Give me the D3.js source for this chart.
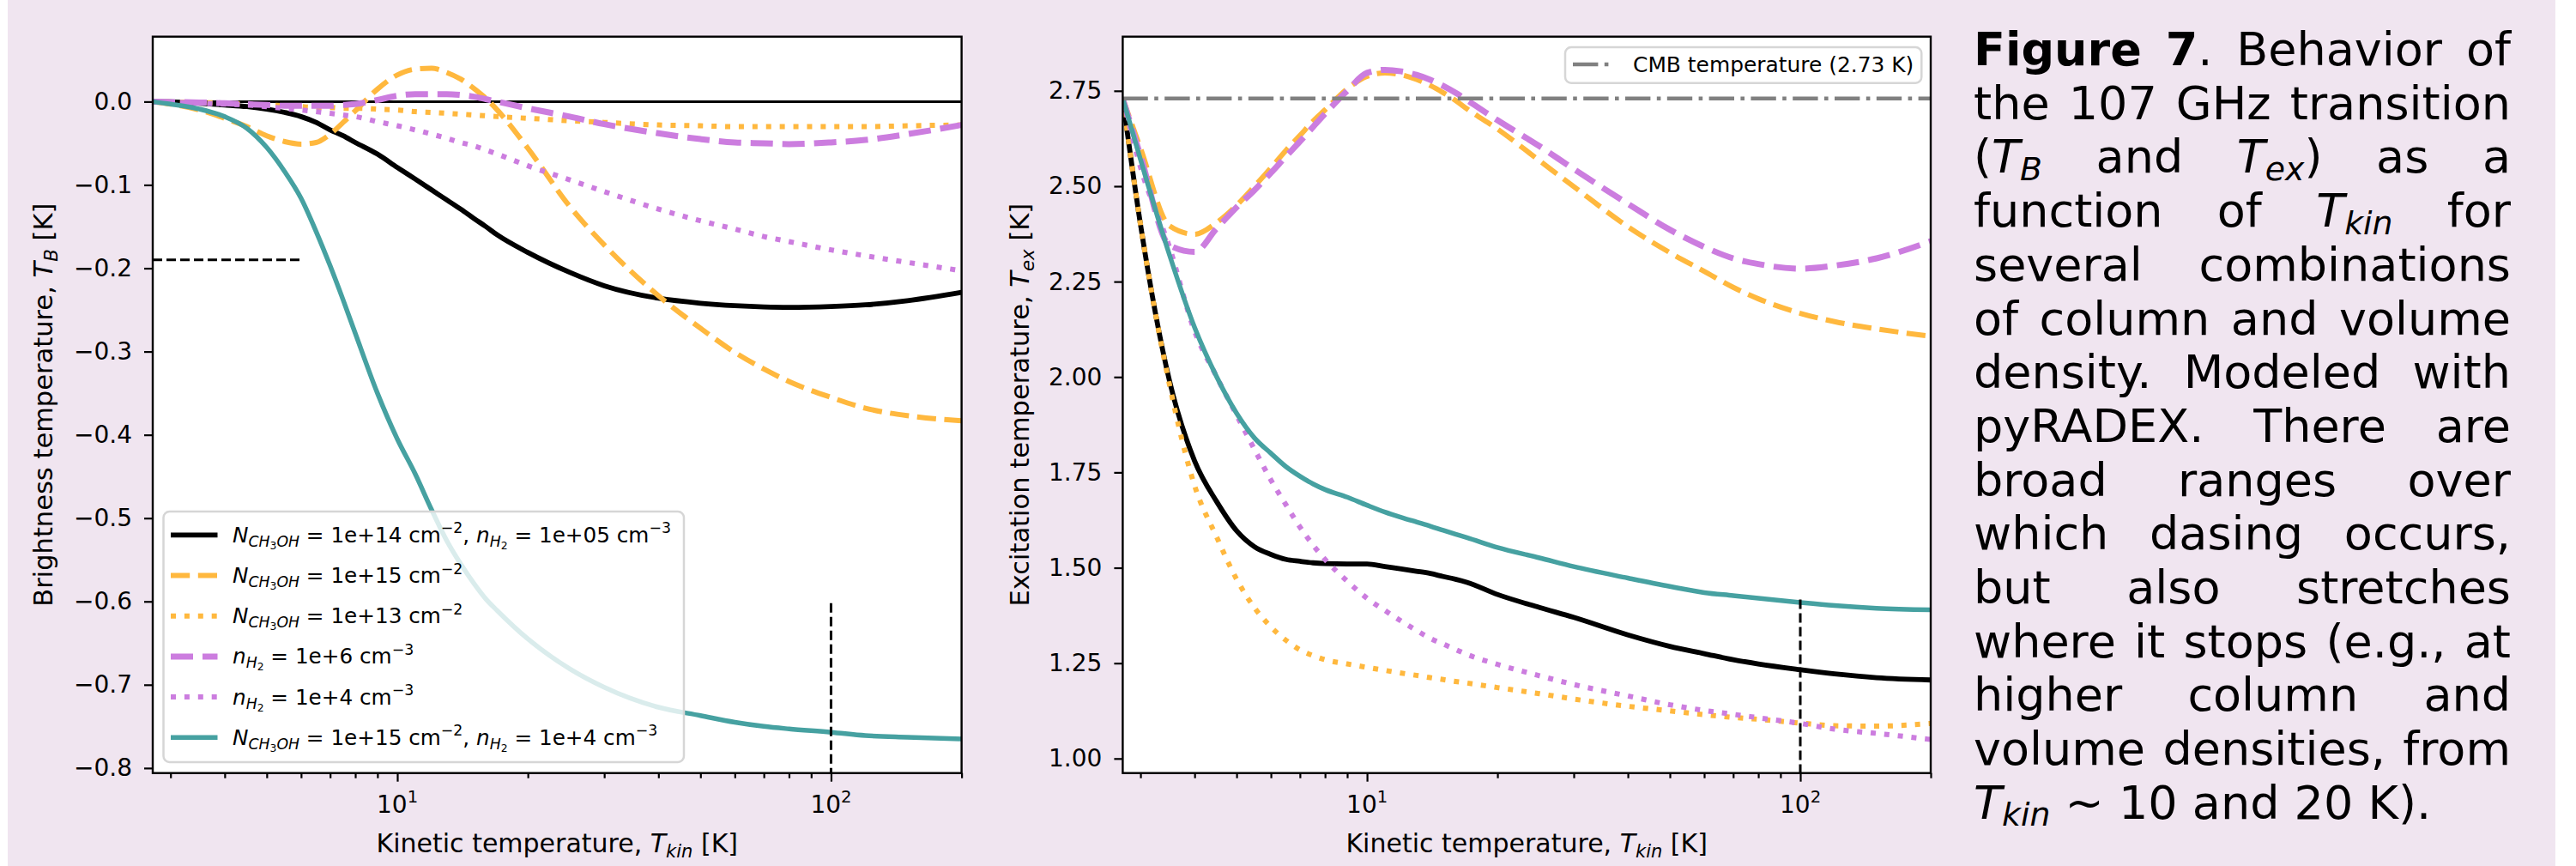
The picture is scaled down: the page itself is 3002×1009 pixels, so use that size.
<!DOCTYPE html>
<html><head><meta charset="utf-8">
<script src="https://cdn.jsdelivr.net/npm/d3@7/dist/d3.min.js"></script>
<style>
body{margin:0;background:#fff;}
svg text{font-family:'DejaVu Sans',sans-serif;white-space:pre;fill:#000;}
</style></head>
<body><svg id="c" width="3002" height="1009"></svg>
<script>
// ---------------- DATA ----------------
const Tkin = [2.73,3,3.5,4,4.5,5,5.5,6,6.5,7,7.5,8,9,10,11,12,13,14,15,16,17,20,25,30,40,50,60,70,80,100,120,150,200];

// Brightness temperature T_B [K]
const tbN14n5  = [0,-0.0003,-0.002,-0.004,-0.006,-0.009,-0.013,-0.018,-0.025,-0.034,-0.041,-0.049,-0.063,-0.079,-0.093,-0.106,-0.118,-0.129,-0.140,-0.150,-0.160,-0.181,-0.205,-0.221,-0.236,-0.242,-0.245,-0.2465,-0.247,-0.246,-0.244,-0.239,-0.229];
const tbN15    = [0,-0.003,-0.010,-0.020,-0.030,-0.041,-0.048,-0.051,-0.049,-0.039,-0.025,-0.011,0.015,0.032,0.039,0.040,0.035,0.027,0.016,0.004,-0.010,-0.056,-0.126,-0.172,-0.233,-0.272,-0.301,-0.321,-0.336,-0.355,-0.368,-0.377,-0.383];
const tbN13    = [0,-0.0005,-0.001,-0.002,-0.003,-0.004,-0.005,-0.006,-0.007,-0.007,-0.008,-0.008,-0.009,-0.010,-0.012,-0.013,-0.014,-0.015,-0.016,-0.017,-0.018,-0.020,-0.023,-0.025,-0.028,-0.029,-0.030,-0.030,-0.030,-0.030,-0.030,-0.029,-0.028];
const tbn6     = [0,-0.0005,-0.001,-0.002,-0.003,-0.004,-0.005,-0.005,-0.005,-0.005,-0.004,-0.003,0.002,0.007,0.009,0.009,0.009,0.008,0.006,0.003,0.000,-0.008,-0.018,-0.027,-0.038,-0.045,-0.049,-0.050,-0.051,-0.049,-0.046,-0.039,-0.028];
const tbn4     = [0,-0.0005,-0.002,-0.003,-0.004,-0.006,-0.008,-0.010,-0.012,-0.014,-0.016,-0.018,-0.024,-0.029,-0.034,-0.039,-0.044,-0.049,-0.053,-0.058,-0.063,-0.077,-0.094,-0.108,-0.129,-0.143,-0.153,-0.162,-0.168,-0.178,-0.185,-0.193,-0.203];
const tbN15n4  = [0,-0.003,-0.009,-0.018,-0.032,-0.055,-0.084,-0.116,-0.156,-0.197,-0.238,-0.278,-0.350,-0.405,-0.447,-0.490,-0.527,-0.555,-0.578,-0.597,-0.611,-0.645,-0.681,-0.703,-0.727,-0.737,-0.745,-0.750,-0.753,-0.757,-0.761,-0.763,-0.765];

// Excitation temperature T_ex [K]
const texN14n5 = [2.73,2.40,1.99,1.78,1.673,1.597,1.555,1.535,1.522,1.517,1.513,1.511,1.510,1.510,1.503,1.497,1.491,1.485,1.477,1.470,1.462,1.430,1.396,1.370,1.324,1.294,1.275,1.259,1.248,1.233,1.222,1.212,1.206];
const texN15   = [2.73,2.60,2.396,2.374,2.405,2.45,2.50,2.548,2.594,2.633,2.67,2.70,2.755,2.788,2.797,2.792,2.78,2.764,2.745,2.725,2.703,2.650,2.567,2.499,2.394,2.326,2.277,2.235,2.205,2.167,2.145,2.126,2.107];
const texN13   = [2.73,2.40,1.98,1.715,1.58,1.47,1.395,1.345,1.31,1.285,1.27,1.259,1.248,1.239,1.231,1.224,1.218,1.212,1.207,1.202,1.198,1.186,1.170,1.156,1.137,1.125,1.115,1.108,1.103,1.093,1.086,1.085,1.092];
const texn6    = [2.73,2.58,2.345,2.328,2.39,2.445,2.49,2.535,2.578,2.617,2.655,2.69,2.75,2.797,2.805,2.801,2.792,2.779,2.763,2.745,2.726,2.673,2.605,2.545,2.454,2.386,2.341,2.311,2.296,2.284,2.292,2.311,2.356];
const texn4    = [2.73,2.55,2.34,2.12,2.00,1.90,1.81,1.73,1.665,1.607,1.56,1.522,1.465,1.420,1.388,1.360,1.336,1.315,1.300,1.286,1.273,1.247,1.217,1.194,1.164,1.141,1.126,1.116,1.107,1.092,1.077,1.066,1.050];
const texN15n4 = [2.73,2.57,2.32,2.13,2.00,1.905,1.84,1.80,1.765,1.74,1.72,1.705,1.685,1.664,1.646,1.632,1.62,1.609,1.598,1.588,1.579,1.553,1.526,1.503,1.473,1.451,1.435,1.427,1.420,1.409,1.401,1.394,1.390];

const cmbTemp = 2.73;
const xDomain = [2.73, 200];
const tbDomain = [-0.806, 0.078];
const texDomain = [0.962, 2.892];
const tbTicks = [0,-0.1,-0.2,-0.3,-0.4,-0.5,-0.6,-0.7,-0.8];
const texTicks = [1.00,1.25,1.50,1.75,2.00,2.25,2.50,2.75];
const xMajor = [10,100];
const xMajorLabels = ['10{u:1}','10{u:2}'];
const xMinor = [3,4,5,6,7,8,9,20,30,40,50,60,70,80,90,200];
const tbRefH = [[-0.19, 2.73, 6]];      // [y, x0, x1]
const tbRefV = [[100, -0.602, -0.81]];  // [x, y0, y1]
const texRefV = [[100, 1.417, 0.95]];

const legendLabels = [
 '{i:N}{s:CH}{ss:3}{s:OH} = 1e+14 cm{u:−2}, {i:n}{s:H}{ss:2} = 1e+05 cm{u:−3}',
 '{i:N}{s:CH}{ss:3}{s:OH} = 1e+15 cm{u:−2}',
 '{i:N}{s:CH}{ss:3}{s:OH} = 1e+13 cm{u:−2}',
 '{i:n}{s:H}{ss:2} = 1e+6 cm{u:−3}',
 '{i:n}{s:H}{ss:2} = 1e+4 cm{u:−3}',
 '{i:N}{s:CH}{ss:3}{s:OH} = 1e+15 cm{u:−2}, {i:n}{s:H}{ss:2} = 1e+4 cm{u:−3}'
];
const cmbLabel = 'CMB temperature (2.73 K)';
const xLabel = 'Kinetic temperature, {i:T}{s:kin} [K]';
const tbLabel = 'Brightness temperature, {i:T}{s:B} [K]';
const texLabel = 'Excitation temperature, {i:T}{s:ex} [K]';
const caption = [
 '{b:Figure} {b:7}. Behavior of',
 'the 107 GHz transition',
 '({i:T}{c:B} and {i:T}{c:ex}) as a',
 'function of {i:T}{c:kin} for',
 'several combinations',
 'of column and volume',
 'density. Modeled with',
 'pyRADEX. There are',
 'broad ranges over',
 'which dasing occurs,',
 'but also stretches',
 'where it stops (e.g., at',
 'higher column and',
 'volume densities, from',
 '{i:T}{c:kin} ~ 10 and 20 K).'
];

// ---------------- STYLES ----------------
const ORANGE = '#FFB83E', PURPLE = '#CC7DDF', TEAL = '#46A1A1', GRAY = '#808080';
const S = {
  solidK: {c:'#000', w:5.8, d:null},
  dashO:  {c:ORANGE, w:6, d:'22.2,9.6'},
  dotO:   {c:ORANGE, w:6, d:'6,9.9'},
  dashP:  {c:PURPLE, w:7, d:'26,11'},
  dotP:   {c:PURPLE, w:6, d:'6,9.9'},
  solidT: {c:TEAL, w:5.5, d:null}
};
const seriesTB  = [[tbN14n5,S.solidK],[tbN15,S.dashO],[tbN13,S.dotO],[tbn6,S.dashP],[tbn4,S.dotP],[tbN15n4,S.solidT]];
const seriesTEX = [[texN14n5,S.solidK],[texN15,S.dashO],[texN13,S.dotO],[texn6,S.dashP],[texn4,S.dotP],[texN15n4,S.solidT]];
const legendStyles = [S.solidK,S.dashO,S.dotO,S.dashP,S.dotP,S.solidT];

// ---------------- HELPERS ----------------
const STY = {b:{w:'bold'}, i:{st:'italic'}, s:{st:'italic',sc:.7,sh:.2}, c:{st:'italic',sc:.7,sh:.16},
             ss:{sc:.5,sh:.32}, u:{sc:.7,sh:-.42}, p:{}};
function rich(sel, markup, fs){
  sel.attr('xml:space','preserve');
  const re=/\{(\w+):([^}]*)\}|([^{]+)/g; let m, cur=0;
  while((m=re.exec(markup))){
    const k=m[1]||'p', t=m[1]?m[2]:m[3], s=STY[k];
    const sh=(s.sh||0)*fs;
    sel.append('tspan').attr('dy',(sh-cur).toFixed(2)).attr('font-size',fs*(s.sc||1))
      .attr('font-style',s.st||'normal').attr('font-weight',s.w||'normal').text(t);
    cur=sh;
  }
  return sel;
}
function styled(sel, st){
  sel.attr('stroke',st.c).attr('stroke-width',st.w).attr('fill','none');
  if(st.d) sel.attr('stroke-dasharray',st.d);
  return sel;
}

const svg = d3.select('#c');
svg.append('rect').attr('width',3002).attr('height',1009).attr('fill','#fff');
svg.append('rect').attr('x',9).attr('width',2969).attr('height',1009).attr('fill','rgb(240,229,240)');

function panel(box, yDomain, yTicks, yFmt, yLabel, yLabelX, id){
  const x = d3.scaleLog().domain(xDomain).range([box.x0, box.x1]);
  const y = d3.scaleLinear().domain(yDomain).range([box.y1, box.y0]);
  const g = svg.append('g');
  g.append('rect').attr('x',box.x0).attr('y',box.y0).attr('width',box.x1-box.x0).attr('height',box.y1-box.y0).attr('fill','#fff');
  svg.append('clipPath').attr('id',id).append('rect').attr('x',box.x0).attr('y',box.y0).attr('width',box.x1-box.x0).attr('height',box.y1-box.y0);
  const plot = g.append('g').attr('clip-path',`url(#${id})`);
  const line = d3.line().x(d=>x(d[0])).y(d=>y(d[1])).curve(d3.curveMonotoneX);
  const ax = g.append('g').attr('transform',`translate(0,${box.y1})`);
  ax.append('g').call(d3.axisBottom(x).tickValues(xMinor).tickSize(6).tickFormat(''));
  ax.append('g').call(d3.axisBottom(x).tickValues(xMajor).tickSize(10).tickFormat(''));
  ax.selectAll('.domain').remove();
  ax.selectAll('line').attr('stroke','#000').attr('stroke-width',2.2);
  xMajor.forEach((v,i)=>{
    rich(g.append('text').attr('x',x(v)-24).attr('y',946.5), xMajorLabels[i], 28);
  });
  const ay = g.append('g').attr('transform',`translate(${box.x0},0)`)
    .call(d3.axisLeft(y).tickValues(yTicks).tickSize(10).tickPadding(14).tickFormat(yFmt));
  ay.select('.domain').remove();
  ay.selectAll('line').attr('stroke','#000').attr('stroke-width',2.2);
  ay.selectAll('text').attr('font-size',28).attr('font-family','DejaVu Sans').attr('fill','#000');
  rich(g.append('text').attr('x',(box.x0+box.x1)/2).attr('y',993).attr('text-anchor','middle'), xLabel, 30);
  rich(g.append('text').attr('transform',`translate(${yLabelX},${(box.y0+box.y1)/2}) rotate(-90)`).attr('text-anchor','middle'), yLabel, 30.5);
  return {x,y,plot,line,g};
}

// ---------------- LEFT PANEL ----------------
const L = panel({x0:178,x1:1120.6,y0:42.7,y1:900.7}, tbDomain, tbTicks, d3.format('.1f'), tbLabel, 61, 'clipL');
L.plot.append('line').attr('x1',L.x(xDomain[0])).attr('x2',L.x(xDomain[1])).attr('y1',L.y(0)).attr('y2',L.y(0)).attr('stroke','#000').attr('stroke-width',3);
seriesTB.forEach(([vals,st])=>{
  styled(L.plot.append('path').attr('d',L.line(Tkin.map((t,i)=>[t,vals[i]]))),st);
});
tbRefH.forEach(([yv,a,b])=>L.plot.append('line').attr('x1',L.x(a)).attr('x2',L.x(b)).attr('y1',L.y(yv)).attr('y2',L.y(yv)).attr('stroke','#000').attr('stroke-width',3).attr('stroke-dasharray','11,5'));
tbRefV.forEach(([xv,a,b])=>L.plot.append('line').attr('x1',L.x(xv)).attr('x2',L.x(xv)).attr('y1',L.y(a)).attr('y2',L.y(b)).attr('stroke','#000').attr('stroke-width',3).attr('stroke-dasharray','11,5'));
const lg = L.g.append('g');
lg.append('rect').attr('x',190.5).attr('y',596).attr('width',606.5).attr('height',292).attr('rx',7)
  .attr('fill','#fff').attr('fill-opacity',0.8).attr('stroke','#d6d6d6').attr('stroke-width',2.5);
legendLabels.forEach((lab,i)=>{
  const cy = 623.3 + i*47.2;
  styled(lg.append('line').attr('x1',199).attr('x2',253.5).attr('y1',cy).attr('y2',cy), legendStyles[i]);
  rich(lg.append('text').attr('x',271).attr('y',cy+8.5), lab, 24.7);
});
L.g.append('rect').attr('x',178).attr('y',42.7).attr('width',1120.6-178).attr('height',900.7-42.7).attr('fill','none').attr('stroke','#000').attr('stroke-width',2.4);

// ---------------- RIGHT PANEL ----------------
const R = panel({x0:1308.4,x1:2250,y0:42.7,y1:900.7}, texDomain, texTicks, d3.format('.2f'), texLabel, 1199, 'clipR');
seriesTEX.forEach(([vals,st])=>{
  styled(R.plot.append('path').attr('d',R.line(Tkin.map((t,i)=>[t,vals[i]]))),st);
});
texRefV.forEach(([xv,a,b])=>R.plot.append('line').attr('x1',R.x(xv)).attr('x2',R.x(xv)).attr('y1',R.y(a)).attr('y2',R.y(b)).attr('stroke','#000').attr('stroke-width',3).attr('stroke-dasharray','11,5'));
const cmbStyle = {c:GRAY, w:4.6, d:'29.4,7.4,4.6,7.4'};
styled(R.plot.append('line').attr('x1',R.x(xDomain[0])).attr('x2',R.x(xDomain[1])).attr('y1',R.y(cmbTemp)).attr('y2',R.y(cmbTemp)), cmbStyle);
const rg = R.g.append('g');
rg.append('rect').attr('x',1824).attr('y',55).attr('width',415.3).attr('height',41.7).attr('rx',7)
  .attr('fill','#fff').attr('fill-opacity',0.8).attr('stroke','#d6d6d6').attr('stroke-width',2.5);
styled(rg.append('line').attr('x1',1833).attr('x2',1879).attr('y1',75).attr('y2',75), cmbStyle);
rich(rg.append('text').attr('x',1903).attr('y',84), cmbLabel, 24.9);
R.g.append('rect').attr('x',1308.4).attr('y',42.7).attr('width',2250-1308.4).attr('height',900.7-42.7).attr('fill','none').attr('stroke','#000').attr('stroke-width',2.4);

// ---------------- CAPTION ----------------
const capX0 = 2300, capX1 = 2926, capFS = 54, capBase = 76, capLH = 62.7;
const cg = svg.append('g');
caption.forEach((ln,li)=>{
  const words = ln.split(' ');
  const els = words.map(w=>rich(cg.append('text').attr('y',capBase+li*capLH), w, capFS));
  const widths = els.map(e=>e.node().getComputedTextLength());
  const total = d3.sum(widths);
  const last = li===caption.length-1;
  const gap = last ? capFS*0.318 : (capX1-capX0-total)/(words.length-1);
  let xx = capX0;
  els.forEach((e,i)=>{ e.attr('x',xx); xx += widths[i]+gap; });
});
</script></body></html>
